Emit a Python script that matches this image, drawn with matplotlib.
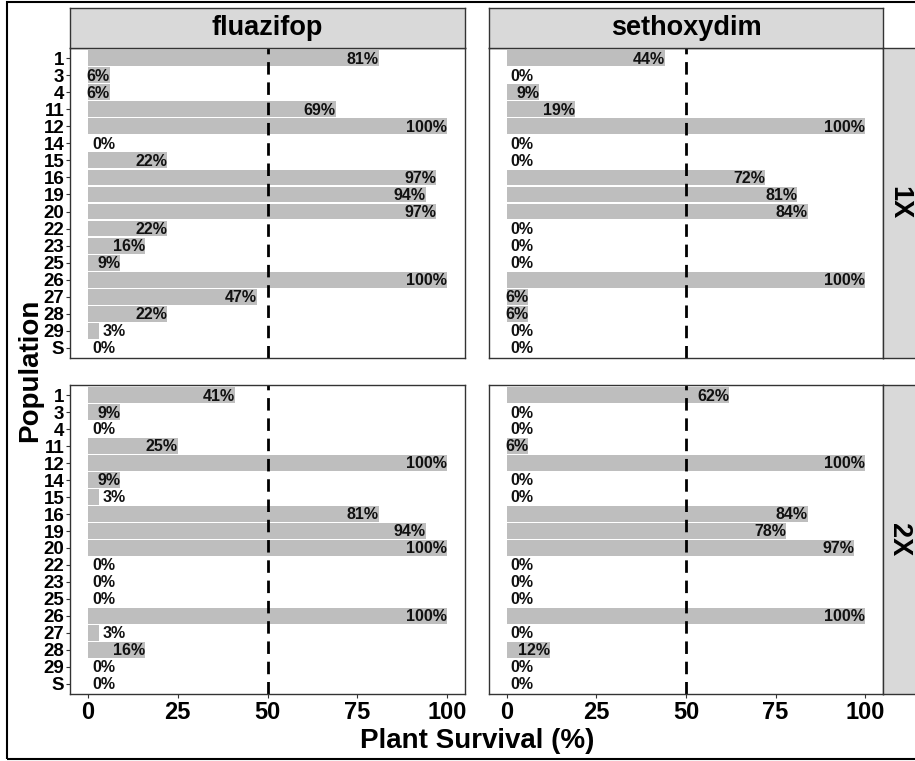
import numpy as np
import matplotlib.pyplot as plt
from matplotlib.patches import Rectangle

plt.rcParams['font.family'] = ['Liberation Sans', 'DejaVu Sans']
plt.rcParams['font.weight'] = 'bold'

# Populations, top to bottom
populations = ['1', '3', '4', '11', '12', '14', '15', '16', '19', '20',
               '22', '23', '25', '26', '27', '28', '29', 'S']

# Survival (%) for each herbicide and rate
fluazifop_1x = [81, 6, 6, 69, 100, 0, 22, 97, 94, 97, 22, 16, 9, 100, 47, 22, 3, 0]
sethoxydim_1x = [44, 0, 9, 19, 100, 0, 0, 72, 81, 84, 0, 0, 0, 100, 6, 6, 0, 0]
fluazifop_2x = [41, 9, 0, 25, 100, 9, 3, 81, 94, 100, 0, 0, 0, 100, 3, 16, 0, 0]
sethoxydim_2x = [62, 0, 0, 6, 100, 0, 0, 84, 78, 97, 0, 0, 0, 100, 0, 12, 0, 0]

herbicides = ['fluazifop', 'sethoxydim']
rates = ['1X', '2X']
x_ticks = [0, 25, 50, 75, 100]

W, H = 915, 761
fig = plt.figure(figsize=(W / 100, H / 100), dpi=100)

def px_box(x0, y0, x1, y1):
    return [x0 / W, 1 - y1 / H, (x1 - x0) / W, (y1 - y0) / H]

col_x = [(70, 465), (489, 883)]
row_y = [(48, 358), (385, 694)]
data = {(0, 0): fluazifop_1x, (0, 1): sethoxydim_1x,
        (1, 0): fluazifop_2x, (1, 1): sethoxydim_2x}
edge = '#333333'

ypos = np.arange(len(populations))
for r in range(2):
    for c in range(2):
        ax = fig.add_axes(px_box(col_x[c][0], row_y[r][0], col_x[c][1], row_y[r][1]))
        vals = np.array(data[(r, c)])
        ax.barh(ypos, vals, height=0.93, color='#BEBEBE', edgecolor='none')
        ax.axvline(50, color='black', lw=2.0, linestyle=(0, (4.5, 2.8)))
        for y, v in zip(ypos, vals):
            lx = v if v >= 5 else v + 7.5
            ax.text(lx, y + 0.05, f'{v}%', ha='right', va='center', fontsize=11.5,
                    fontweight='bold', color='#111111')
        ax.set_xlim(-5, 105)
        ax.set_ylim(len(populations) - 0.4, -0.6)
        ax.set_yticks(ypos)
        ax.set_xticks(x_ticks)
        for s in ax.spines.values():
            s.set_color(edge)
            s.set_linewidth(1.0)
        ax.tick_params(axis='both', colors='#333333', length=3, width=0.8)
        if c == 0:
            ax.set_yticklabels(populations, fontsize=13.5, fontweight='bold',
                               color='black')
            ax.tick_params(axis='y', pad=1)
        else:
            ax.tick_params(axis='y', left=False, labelleft=False)
        if r == 1:
            ax.set_xticklabels([str(t) for t in x_ticks], fontsize=17,
                               fontweight='bold', color='black')
            ax.tick_params(axis='x', pad=2)
        else:
            ax.tick_params(axis='x', bottom=False, labelbottom=False)

# facet strips on top
for c in range(2):
    sa = fig.add_axes(px_box(col_x[c][0], 8, col_x[c][1], 48))
    sa.set_facecolor('#D9D9D9')
    sa.set_xticks([])
    sa.set_yticks([])
    for s in sa.spines.values():
        s.set_color(edge)
        s.set_linewidth(1.0)
    sa.text(0.5, 0.5, herbicides[c], transform=sa.transAxes, ha='center',
            va='center', fontsize=19.5, fontweight='bold')

# facet strips on the right
for r in range(2):
    sa = fig.add_axes(px_box(883, row_y[r][0], 923, row_y[r][1]))
    sa.set_facecolor('#D9D9D9')
    sa.set_xticks([])
    sa.set_yticks([])
    for s in sa.spines.values():
        s.set_color(edge)
        s.set_linewidth(1.0)
    fig.text(899 / W, 1 - (row_y[r][0] + row_y[r][1]) / 2 / H, rates[r],
             rotation=270, ha='center', va='center', fontsize=19.5,
             fontweight='bold')

fig.text(477 / W, 1 - 741 / H, 'Plant Survival (%)', ha='center', va='center',
         fontsize=20, fontweight='bold')
fig.text(30 / W, 1 - 370 / H, 'Population', rotation=90, ha='center',
         va='center', fontsize=20, fontweight='bold')

# outer frame
fig.patches.append(Rectangle((7 / W, 2 / H), 1.2, 1 - 4 / H,
                             transform=fig.transFigure, fill=False,
                             edgecolor='black', lw=1.5))

fig.savefig('out.png', dpi=100)
